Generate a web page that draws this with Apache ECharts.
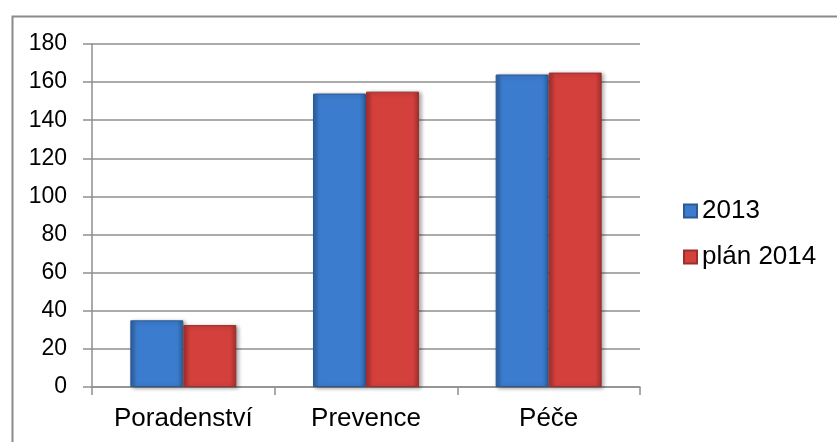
<!DOCTYPE html>
<html>
<head>
<meta charset="utf-8">
<script src="https://cdn.jsdelivr.net/npm/echarts@6/dist/echarts.min.js"></script>
<style>html,body{margin:0;padding:0;background:#fff}#c{width:837px;height:442px}</style>
</head>
<body>
<div id="c"></div>
<script>
const categories = ['Poradenství', 'Prevence', 'Péče'];
const seriesNames = ['2013', 'plán 2014'];
const values2013 = [35, 154, 164];
const valuesPlan2014 = [32.5, 155, 165];
const yTicks = { min: 0, max: 180, interval: 20 };

function grad(edge, mid) {
  return new echarts.graphic.LinearGradient(0, 0, 1, 0, [
    { offset: 0, color: edge }, { offset: 0.12, color: mid },
    { offset: 0.88, color: mid }, { offset: 1, color: edge }
  ]);
}
const chart = echarts.init(document.getElementById('c'));
const gridColor = '#8f8f8f';
chart.setOption({
  animation: false,
  graphic: [{
    type: 'rect', left: 10, top: 14, shape: { width: 900, height: 500 },
    style: { fill: 'none', stroke: '#8a8a8a', lineWidth: 2 }, silent: true
  }],
  grid: { left: 92, right: 197, top: 44, bottom: 55 },
  legend: {
    orient: 'vertical', left: 683, top: 198, padding: 0, itemWidth: 13, itemHeight: 13, itemGap: 20,
    icon: 'rect',
    textStyle: { fontFamily: 'Liberation Sans, Arial', fontSize: 26, color: '#000', lineHeight: 26 },
    data: seriesNames
  },
  xAxis: {
    type: 'category', data: categories,
    axisLine: { lineStyle: { color: gridColor, width: 1.5 } },
    axisTick: { show: true, length: 8, lineStyle: { color: gridColor, width: 1.5 } },
    axisLabel: { fontFamily: 'Liberation Sans, Arial', fontSize: 26, color: '#000', margin: 19, lineHeight: 26 }
  },
  yAxis: {
    type: 'value', min: yTicks.min, max: yTicks.max, interval: yTicks.interval,
    axisLine: { show: true, lineStyle: { color: gridColor, width: 1.5 } },
    axisTick: { show: true, length: 9, lineStyle: { color: gridColor, width: 1.5 } },
    splitLine: { lineStyle: { color: gridColor, width: 1.5 } },
    axisLabel: { fontFamily: 'Liberation Sans, Arial', fontSize: 23, color: '#000', margin: 25 }
  },
  series: [
    {
      name: seriesNames[0], type: 'bar', data: values2013, barWidth: 53, barGap: '0%',
      itemStyle: { color: grad('#2c5f9e', '#3c7cce'), borderColor: '#2d5a92', borderWidth: 1,
        shadowColor: 'rgba(0,0,0,0.35)', shadowBlur: 4, shadowOffsetX: 2, shadowOffsetY: 1 }
    },
    {
      name: seriesNames[1], type: 'bar', data: valuesPlan2014, barWidth: 53, barGap: '0%',
      itemStyle: { color: grad('#a3302d', '#d4403c'), borderColor: '#9c2f2c', borderWidth: 1,
        shadowColor: 'rgba(0,0,0,0.35)', shadowBlur: 4, shadowOffsetX: 2, shadowOffsetY: 1 }
    }
  ]
});
</script>
</body>
</html>
